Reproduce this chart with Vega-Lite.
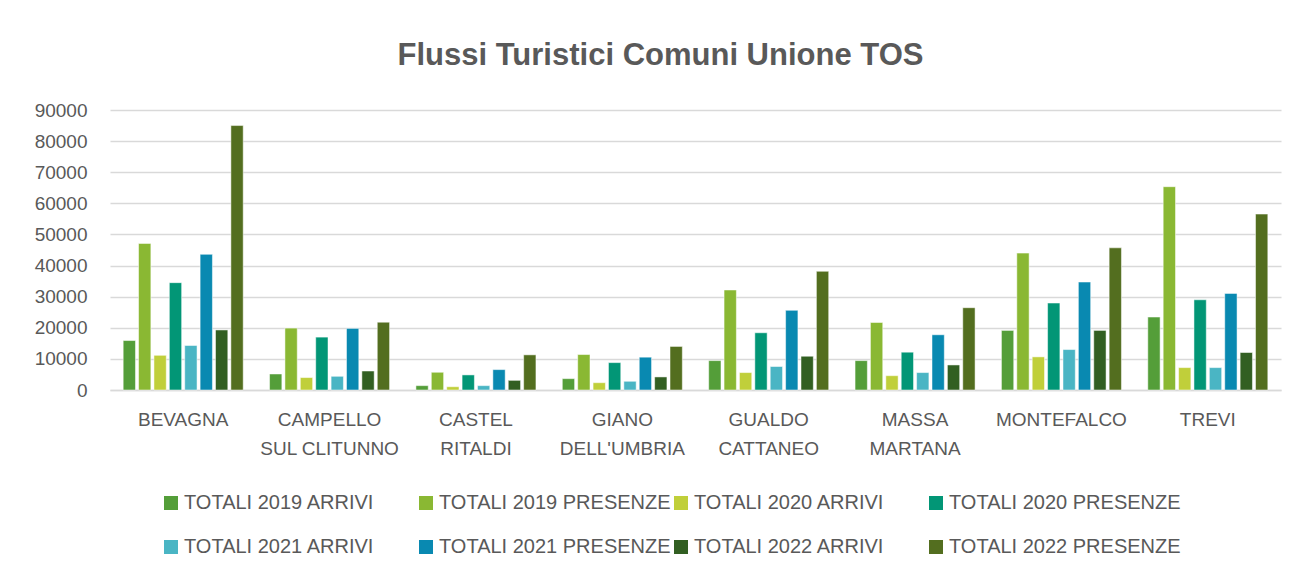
{
  "$schema": "https://vega.github.io/schema/vega-lite/v6.json",
  "autosize": {"type": "none"},
  "width": 1171,
  "height": 280,
  "padding": {"left": 110, "top": 110, "right": 17, "bottom": 186},
  "background": "white",
  "title": {
    "text": "Flussi Turistici Comuni Unione TOS",
    "anchor": "middle",
    "frame": "group",
    "dx": -35,
    "offset": 29,
    "font": "Liberation Sans",
    "fontSize": 31,
    "fontWeight": "bold",
    "color": "#595959"
  },
  "data": {
    "values": [
      {"comune": "BEVAGNA", "serie": "TOTALI 2019 ARRIVI", "valore": 15900},
      {"comune": "BEVAGNA", "serie": "TOTALI 2019 PRESENZE", "valore": 47100},
      {"comune": "BEVAGNA", "serie": "TOTALI 2020 ARRIVI", "valore": 11150},
      {"comune": "BEVAGNA", "serie": "TOTALI 2020 PRESENZE", "valore": 34500},
      {"comune": "BEVAGNA", "serie": "TOTALI 2021 ARRIVI", "valore": 14300},
      {"comune": "BEVAGNA", "serie": "TOTALI 2021 PRESENZE", "valore": 43600},
      {"comune": "BEVAGNA", "serie": "TOTALI 2022 ARRIVI", "valore": 19300},
      {"comune": "BEVAGNA", "serie": "TOTALI 2022 PRESENZE", "valore": 85000},
      {"comune": "CAMPELLO SUL CLITUNNO", "serie": "TOTALI 2019 ARRIVI", "valore": 5150},
      {"comune": "CAMPELLO SUL CLITUNNO", "serie": "TOTALI 2019 PRESENZE", "valore": 19900},
      {"comune": "CAMPELLO SUL CLITUNNO", "serie": "TOTALI 2020 ARRIVI", "valore": 4000},
      {"comune": "CAMPELLO SUL CLITUNNO", "serie": "TOTALI 2020 PRESENZE", "valore": 17000},
      {"comune": "CAMPELLO SUL CLITUNNO", "serie": "TOTALI 2021 ARRIVI", "valore": 4400},
      {"comune": "CAMPELLO SUL CLITUNNO", "serie": "TOTALI 2021 PRESENZE", "valore": 19800},
      {"comune": "CAMPELLO SUL CLITUNNO", "serie": "TOTALI 2022 ARRIVI", "valore": 6100},
      {"comune": "CAMPELLO SUL CLITUNNO", "serie": "TOTALI 2022 PRESENZE", "valore": 21800},
      {"comune": "CASTEL RITALDI", "serie": "TOTALI 2019 ARRIVI", "valore": 1400},
      {"comune": "CASTEL RITALDI", "serie": "TOTALI 2019 PRESENZE", "valore": 5700},
      {"comune": "CASTEL RITALDI", "serie": "TOTALI 2020 ARRIVI", "valore": 1050},
      {"comune": "CASTEL RITALDI", "serie": "TOTALI 2020 PRESENZE", "valore": 4850},
      {"comune": "CASTEL RITALDI", "serie": "TOTALI 2021 ARRIVI", "valore": 1400},
      {"comune": "CASTEL RITALDI", "serie": "TOTALI 2021 PRESENZE", "valore": 6550},
      {"comune": "CASTEL RITALDI", "serie": "TOTALI 2022 ARRIVI", "valore": 3100},
      {"comune": "CASTEL RITALDI", "serie": "TOTALI 2022 PRESENZE", "valore": 11300},
      {"comune": "GIANO DELL'UMBRIA", "serie": "TOTALI 2019 ARRIVI", "valore": 3650},
      {"comune": "GIANO DELL'UMBRIA", "serie": "TOTALI 2019 PRESENZE", "valore": 11400},
      {"comune": "GIANO DELL'UMBRIA", "serie": "TOTALI 2020 ARRIVI", "valore": 2350},
      {"comune": "GIANO DELL'UMBRIA", "serie": "TOTALI 2020 PRESENZE", "valore": 8800},
      {"comune": "GIANO DELL'UMBRIA", "serie": "TOTALI 2021 ARRIVI", "valore": 2800},
      {"comune": "GIANO DELL'UMBRIA", "serie": "TOTALI 2021 PRESENZE", "valore": 10550},
      {"comune": "GIANO DELL'UMBRIA", "serie": "TOTALI 2022 ARRIVI", "valore": 4200},
      {"comune": "GIANO DELL'UMBRIA", "serie": "TOTALI 2022 PRESENZE", "valore": 14000},
      {"comune": "GUALDO CATTANEO", "serie": "TOTALI 2019 ARRIVI", "valore": 9450},
      {"comune": "GUALDO CATTANEO", "serie": "TOTALI 2019 PRESENZE", "valore": 32150},
      {"comune": "GUALDO CATTANEO", "serie": "TOTALI 2020 ARRIVI", "valore": 5600},
      {"comune": "GUALDO CATTANEO", "serie": "TOTALI 2020 PRESENZE", "valore": 18400},
      {"comune": "GUALDO CATTANEO", "serie": "TOTALI 2021 ARRIVI", "valore": 7550},
      {"comune": "GUALDO CATTANEO", "serie": "TOTALI 2021 PRESENZE", "valore": 25600},
      {"comune": "GUALDO CATTANEO", "serie": "TOTALI 2022 ARRIVI", "valore": 10850},
      {"comune": "GUALDO CATTANEO", "serie": "TOTALI 2022 PRESENZE", "valore": 38150},
      {"comune": "MASSA MARTANA", "serie": "TOTALI 2019 ARRIVI", "valore": 9450},
      {"comune": "MASSA MARTANA", "serie": "TOTALI 2019 PRESENZE", "valore": 21700},
      {"comune": "MASSA MARTANA", "serie": "TOTALI 2020 ARRIVI", "valore": 4600},
      {"comune": "MASSA MARTANA", "serie": "TOTALI 2020 PRESENZE", "valore": 12150},
      {"comune": "MASSA MARTANA", "serie": "TOTALI 2021 ARRIVI", "valore": 5600},
      {"comune": "MASSA MARTANA", "serie": "TOTALI 2021 PRESENZE", "valore": 17750},
      {"comune": "MASSA MARTANA", "serie": "TOTALI 2022 ARRIVI", "valore": 8050},
      {"comune": "MASSA MARTANA", "serie": "TOTALI 2022 PRESENZE", "valore": 26450},
      {"comune": "MONTEFALCO", "serie": "TOTALI 2019 ARRIVI", "valore": 19150},
      {"comune": "MONTEFALCO", "serie": "TOTALI 2019 PRESENZE", "valore": 44000},
      {"comune": "MONTEFALCO", "serie": "TOTALI 2020 ARRIVI", "valore": 10650},
      {"comune": "MONTEFALCO", "serie": "TOTALI 2020 PRESENZE", "valore": 27950},
      {"comune": "MONTEFALCO", "serie": "TOTALI 2021 ARRIVI", "valore": 13000},
      {"comune": "MONTEFALCO", "serie": "TOTALI 2021 PRESENZE", "valore": 34700},
      {"comune": "MONTEFALCO", "serie": "TOTALI 2022 ARRIVI", "valore": 19150},
      {"comune": "MONTEFALCO", "serie": "TOTALI 2022 PRESENZE", "valore": 45700},
      {"comune": "TREVI", "serie": "TOTALI 2019 ARRIVI", "valore": 23450},
      {"comune": "TREVI", "serie": "TOTALI 2019 PRESENZE", "valore": 65350},
      {"comune": "TREVI", "serie": "TOTALI 2020 ARRIVI", "valore": 7200},
      {"comune": "TREVI", "serie": "TOTALI 2020 PRESENZE", "valore": 29000},
      {"comune": "TREVI", "serie": "TOTALI 2021 ARRIVI", "valore": 7200},
      {"comune": "TREVI", "serie": "TOTALI 2021 PRESENZE", "valore": 31050},
      {"comune": "TREVI", "serie": "TOTALI 2022 ARRIVI", "valore": 12050},
      {"comune": "TREVI", "serie": "TOTALI 2022 PRESENZE", "valore": 56550}
    ]
  },
  "mark": {"type": "bar", "stroke": "white", "strokeWidth": 0.5},
  "encoding": {
    "x": {
      "field": "comune",
      "type": "nominal",
      "sort": null,
      "title": null,
      "scale": {"paddingInner": 0.18, "paddingOuter": 0.09},
      "axis": {
        "labelAngle": 0,
        "labelExpr": "indexof(datum.label, ' ') < 0 ? datum.label : [slice(datum.label, 0, indexof(datum.label, ' ')), slice(datum.label, indexof(datum.label, ' ') + 1)]",
        "labelFont": "Liberation Sans",
        "labelFontSize": 19,
        "labelColor": "#595959",
        "labelPadding": 20,
        "labelLineHeight": 29,
        "ticks": false,
        "domain": true,
        "domainColor": "#d9d9d9",
        "domainWidth": 1.5
      }
    },
    "xOffset": {
      "field": "serie",
      "type": "nominal",
      "sort": null,
      "scale": {"paddingInner": 0.2}
    },
    "y": {
      "field": "valore",
      "type": "quantitative",
      "title": null,
      "scale": {"domain": [0, 90000], "nice": false},
      "axis": {
        "values": [0, 10000, 20000, 30000, 40000, 50000, 60000, 70000, 80000, 90000],
        "format": "d",
        "labelFont": "Liberation Sans",
        "labelFontSize": 19,
        "labelColor": "#595959",
        "labelPadding": 23,
        "ticks": false,
        "domain": false,
        "grid": true,
        "gridColor": "#d9d9d9",
        "gridWidth": 1.5
      }
    },
    "color": {
      "field": "serie",
      "type": "nominal",
      "sort": null,
      "title": null,
      "scale": {
        "domain": ["TOTALI 2019 ARRIVI", "TOTALI 2019 PRESENZE", "TOTALI 2020 ARRIVI", "TOTALI 2020 PRESENZE", "TOTALI 2021 ARRIVI", "TOTALI 2021 PRESENZE", "TOTALI 2022 ARRIVI", "TOTALI 2022 PRESENZE"],
        "range": ["#549E39", "#8AB833", "#C0CF3A", "#029676", "#4AB5C4", "#0989B1", "#325F22", "#536E1F"]
      },
      "legend": {
        "orient": "none",
        "legendX": 51,
        "legendY": 383,
        "direction": "horizontal",
        "columns": 4,
        "gridAlign": "all",
        "symbolType": "square",
        "symbolSize": 196,
        "symbolStrokeWidth": 0,
        "labelFont": "Liberation Sans",
        "labelFontSize": 20,
        "labelColor": "#595959",
        "labelOffset": 3,
        "columnPadding": 0,
        "rowPadding": 24,
        "labelLimit": 400
      }
    }
  },
  "config": {
    "view": {"stroke": null},
    "font": "Liberation Sans"
  }
}
